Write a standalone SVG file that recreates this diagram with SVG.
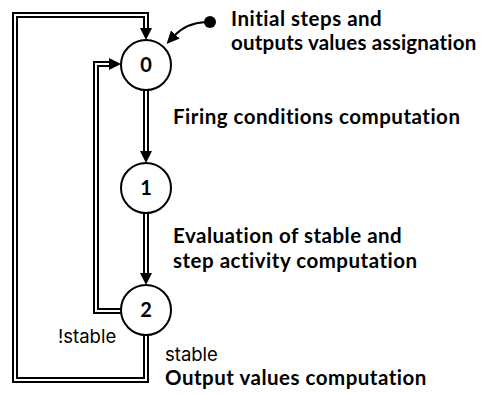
<svg xmlns="http://www.w3.org/2000/svg" width="490" height="394" viewBox="0 0 490 394">
<style>
.bg{fill:#fff}
.outer{fill:none;stroke:#000;stroke-width:6;stroke-linejoin:miter}
.inner{fill:none;stroke:#fff;stroke-width:2;stroke-linejoin:miter}
.node circle{fill:#fff;stroke:#000;stroke-width:2}
.num{font-family:Lato,"Liberation Sans",sans-serif;font-weight:bold;font-size:20px;text-anchor:middle;fill:#000}
.lbl{font-family:Lato,"Liberation Sans",sans-serif;font-weight:bold;font-size:20.5px;letter-spacing:0.5px;fill:#000}
.cond{font-family:Inter,"Liberation Sans",sans-serif;font-size:18.5px;fill:#000}
</style>
<defs>
<marker id="ah" markerUnits="userSpaceOnUse" markerWidth="13" markerHeight="12" refX="0" refY="6" orient="auto">
<path d="M0,0 L12,6 L0,12 z" fill="#000"/>
</marker>
<marker id="ahs" markerUnits="userSpaceOnUse" markerWidth="14" markerHeight="12" refX="2" refY="6" orient="auto">
<path d="M0,0 L13,6 L0,12 z" fill="#000"/>
</marker>
</defs>
<rect class="bg" x="0" y="0" width="490" height="394"/>
<g id="connectors">
<path class="outer" d="M146,90 V151" marker-end="url(#ah)"/>
<path class="inner" d="M146,90 V151"/>
<path class="outer" d="M146,212 V273" marker-end="url(#ah)"/>
<path class="inner" d="M146,212 V273"/>
<path class="outer" d="M146,330 V380 H15 V15 H146 V28" marker-end="url(#ah)"/>
<path class="inner" d="M146,330 V380 H15 V15 H146 V28"/>
<path class="outer" d="M125,311 H96 V64 H109" marker-end="url(#ah)"/>
<path class="inner" d="M125,311 H96 V64 H109"/>
<circle cx="210" cy="22" r="6" fill="#000"/>
<path d="M206,22 Q186,23 174,36" fill="none" stroke="#000" stroke-width="2" marker-end="url(#ahs)"/>
</g>
<g id="n0" class="node"><circle cx="146" cy="65" r="25"/><text class="num" x="146" y="72">0</text></g>
<g id="n1" class="node"><circle cx="146" cy="188" r="25"/><text class="num" x="146" y="195">1</text></g>
<g id="n2" class="node"><circle cx="146" cy="310" r="25"/><text class="num" x="146" y="317">2</text></g>
<g id="labels">
<text class="lbl" x="231" y="26">Initial steps and</text>
<text class="lbl" x="231" y="50" style="letter-spacing:0.2px">outputs values assignation</text>
<text class="lbl" x="173" y="124">Firing conditions computation</text>
<text class="lbl" x="173" y="243">Evaluation of stable and</text>
<text class="lbl" x="173" y="268">step activity computation</text>
<text class="cond" x="58" y="343">!stable</text>
<text class="cond" x="165" y="361">stable</text>
<text class="lbl" x="165" y="385">Output values computation</text>
</g>
</svg>
